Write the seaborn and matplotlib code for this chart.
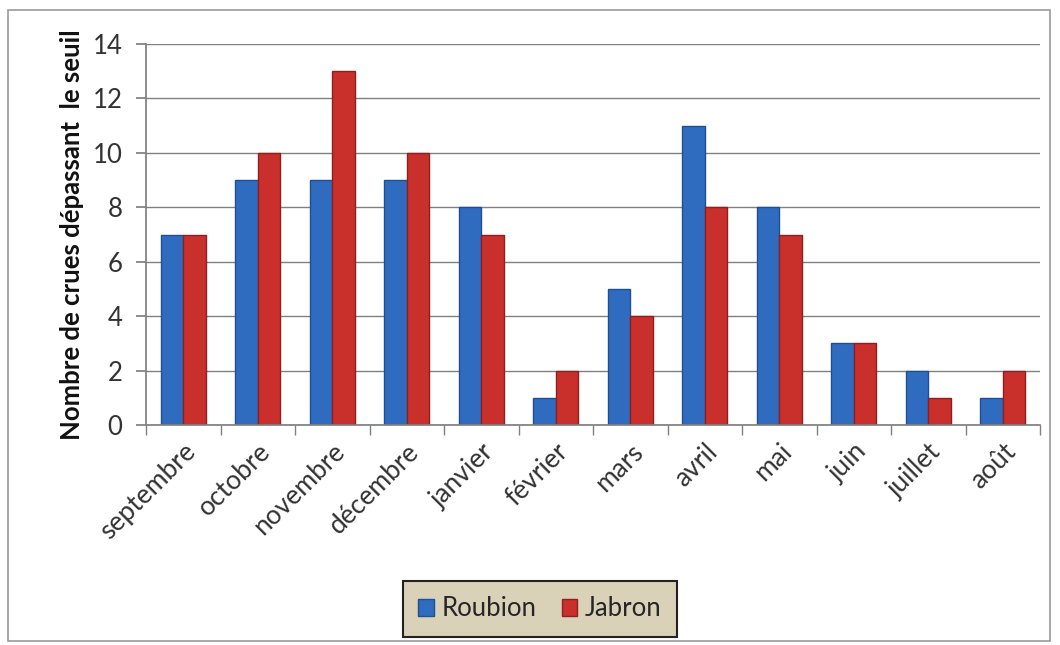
import matplotlib
matplotlib.use("Agg")
import matplotlib.pyplot as plt
import seaborn as sns
import pandas as pd
import numpy as np
from matplotlib.patches import Rectangle, Patch

months = ["septembre", "octobre", "novembre", "décembre", "janvier", "février",
          "mars", "avril", "mai", "juin", "juillet", "août"]
roubion = [7, 9, 9, 9, 8, 1, 5, 11, 8, 3, 2, 1]
jabron = [7, 10, 13, 10, 7, 2, 4, 8, 7, 3, 1, 2]
series_names = ["Roubion", "Jabron"]
yticks = [0, 2, 4, 6, 8, 10, 12, 14]

sns.set_theme(style="white")
plt.rcParams['font.family'] = ['Lato', 'DejaVu Sans']

df = pd.DataFrame({
    "mois": months * 2,
    "valeur": roubion + jabron,
    "serie": [series_names[0]] * len(months) + [series_names[1]] * len(months),
})

colors = {"Roubion": "#2f6cc0", "Jabron": "#c9302c"}
edges = {"Roubion": "#1f4f93", "Jabron": "#8e1f1c"}

fig = plt.figure(figsize=(10.6, 6.45), dpi=100)
ax = fig.add_axes([146/1060, 1-425/645, (1040-146)/1060, (425-44)/645])

sns.barplot(data=df, x="mois", y="valeur", hue="serie", order=months,
            hue_order=series_names, palette=colors, width=0.6, dodge=True,
            ax=ax, legend=False, saturation=1)

for cont, name in zip(ax.containers, series_names):
    for bar in cont:
        bar.set_edgecolor(edges[name])
        bar.set_linewidth(1.0)

ax.set_ylim(0, 14)
ax.set_xlim(-0.5, len(months) - 0.5)
ax.set_yticks(yticks)
ax.set_yticklabels([str(t) for t in yticks], fontsize=18.5, color="#333333")
ax.yaxis.grid(True, color="#808080", linewidth=1.0)
ax.set_axisbelow(True)

for s in ["top", "right"]:
    ax.spines[s].set_visible(False)
ax.spines["left"].set_color("#808080")
ax.spines["bottom"].set_color("#808080")

ax.tick_params(axis="y", which="major", direction="out", length=7, color="#808080",
               left=True, pad=10)
ax.set_xticks(range(len(months)))
ax.set_xticklabels(months, rotation=45, ha="right", rotation_mode="anchor",
                   fontsize=19, color="#333333")
ax.tick_params(axis="x", which="major", length=0, pad=10)
ax.set_xticks(np.arange(-0.5, len(months), 1.0), minor=True)
ax.tick_params(axis="x", which="minor", direction="out", length=7, color="#808080", bottom=True)

ax.set_xlabel("")
ax.set_ylabel("Nombre de crues dépassant  le seuil", fontsize=18.5, fontweight="bold",
              labelpad=6, color="#111111")

handles = [Patch(facecolor=colors[n], edgecolor=edges[n]) for n in series_names]
leg = fig.legend(handles, series_names, loc="center", bbox_to_anchor=(540/1060, 1-609/645),
                 ncol=2, fontsize=18.5, frameon=True, fancybox=False,
                 handlelength=0.6, handleheight=0.6, handletextpad=0.3, columnspacing=1.0,
                 borderpad=0.6, borderaxespad=0)
leg.get_frame().set_facecolor("#d9d2b8")
leg.get_frame().set_edgecolor("#222222")
leg.get_frame().set_linewidth(1.5)
leg.get_frame().set_alpha(1)

fig.patches.append(Rectangle((8/1060, 4/645), (1050-8)/1060, (635-4)/645,
                             transform=fig.transFigure, fill=False,
                             edgecolor="#9a9a9a", linewidth=1.2))

fig.savefig("out.png", dpi=100)
